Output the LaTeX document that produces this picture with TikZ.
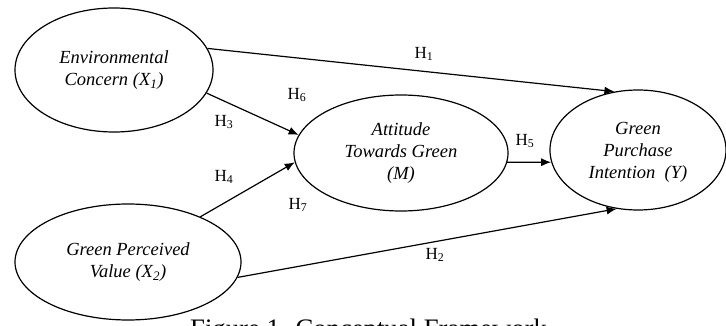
\documentclass[tikz,border=0pt]{standalone}
\usepackage{fontspec}
\setmainfont{Liberation Serif}
\usetikzlibrary{shapes.geometric,arrows.meta}
\begin{document}
\begin{tikzpicture}[x=1pt,y=-1pt,
  latent/.style={draw, ellipse, line width=1.2pt, inner sep=0pt,
    font=\fontsize{18.5}{22}\selectfont\itshape, align=center},
  link/.style={line width=1.2pt, -{Latex[length=10pt,width=8pt]}},
  hyp/.style={font=\fontsize{17}{20}\selectfont, inner sep=0pt}]
\useasboundingbox (0,0) rectangle (726,326);
\node[latent, minimum width=198pt, minimum height=124pt] (ec) at (114,70)
  {Environmental\\Concern (\textit{X}\textsubscript{1})};
\node[latent, minimum width=226pt, minimum height=116pt] (gpv) at (128,262)
  {Green Perceived\\Value (\textit{X}\textsubscript{2})};
\node[latent, minimum width=214pt, minimum height=116pt] (atg) at (401,153)
  {Attitude\\Towards Green\\(\textit{M})};
\node[latent, minimum width=176pt, minimum height=120pt] (gpi) at (638,150)
  {\\[-6pt]Green\\Purchase\\Intention\ \ (\textit{Y})};
\draw[link] (ec.13) -- (gpi.112);
\draw[link] (ec.-14) -- (atg.170);
\draw[link] (gpv.32) -- (atg.185);
\draw[link] (atg.-5) -- (gpi.188);
\draw[link] (gpv.-8) -- (gpi.250);
\node[hyp] (h1) at (424,54) {H\textsubscript{1}};
\node[hyp] (h2) at (435,255) {H\textsubscript{2}};
\node[hyp] (h3) at (224,122) {H\textsubscript{3}};
\node[hyp] (h4) at (224,177) {H\textsubscript{4}};
\node[hyp] (h5) at (525,141) {H\textsubscript{5}};
\node[hyp] (h6) at (297,95) {H\textsubscript{6}};
\node[hyp] (h7) at (298,205) {H\textsubscript{7}};
\node[anchor=base west, inner sep=0pt, font=\fontsize{26.7}{30}\selectfont] (cap) at (190,337.7)
  {Figure 1. Conceptual Framework};
\end{tikzpicture}
\end{document}
